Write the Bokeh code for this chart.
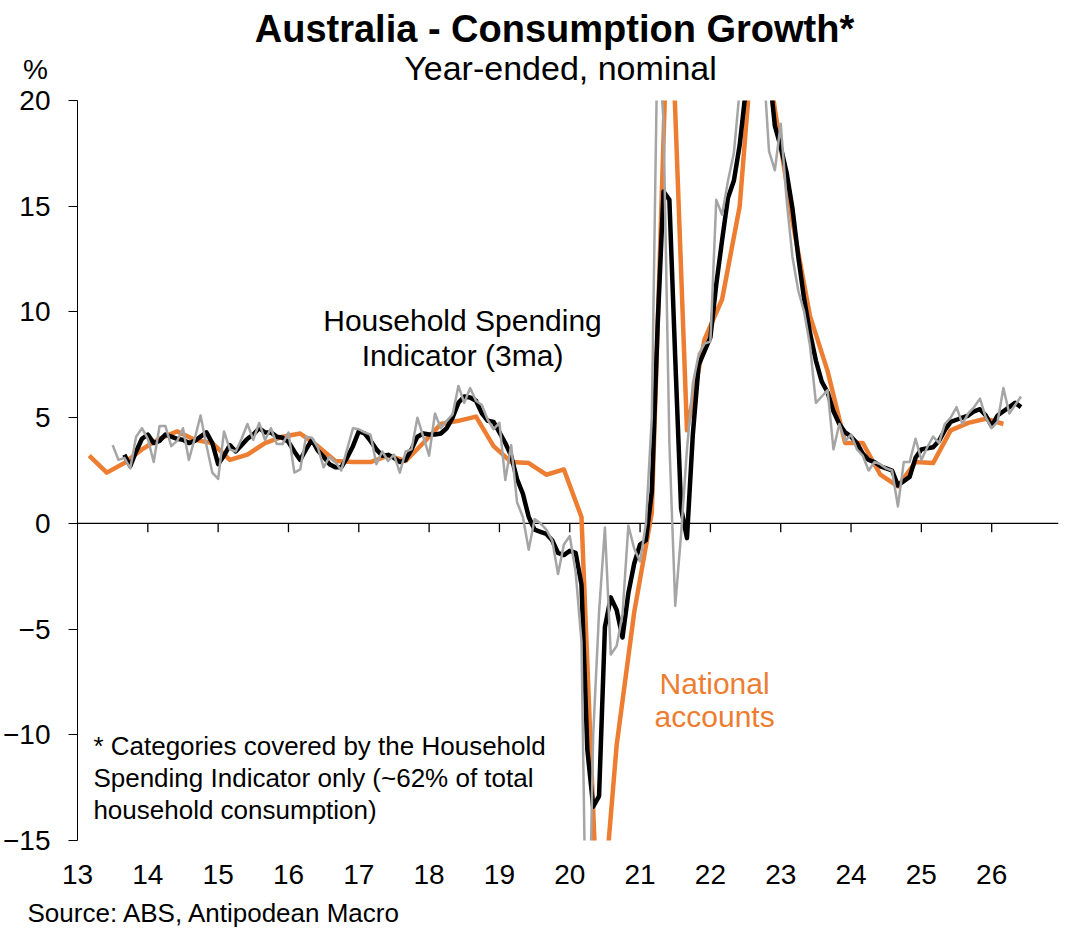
import pandas as pd
from bokeh.plotting import figure
from bokeh.layouts import column
from bokeh.models import Span, Label, FixedTicker
from bokeh.embed import file_html
from bokeh.resources import INLINE

FONT = "Liberation Sans"
ORANGE = "#ED7D31"
GREY = "#A5A5A5"
W = 1092
HEAD_H = 86
FOOT_H = 33
MAIN_H = 930 - HEAD_H - FOOT_H

# Household Spending Indicator, monthly, year-ended % (Jul 2013 - Jun 2026)
hsi_monthly = [
    3.7, 3.0, 3.1, 2.6, 4.1, 4.5,
    4.0, 2.9, 4.6, 4.6, 3.65, 3.9, 4.5, 3.0, 4.0, 5.1, 3.7, 2.4,
    2.1, 4.35, 3.5, 3.4, 4.0, 4.7, 3.95, 4.75, 3.95, 4.5, 3.75, 3.75,
    4.3, 2.4, 2.55, 4.1, 4.05, 3.6, 2.65, 3.15, 2.9, 2.5, 3.5, 4.5,
    4.45, 4.3, 4.2, 2.8, 3.4, 2.95, 3.25, 2.4, 3.4, 3.5, 5.0, 4.1,
    3.2, 5.2, 4.5, 4.85, 5.15, 6.5, 5.7, 6.4, 5.8, 5.6, 4.9, 4.45,
    4.75, 2.05, 3.7, 1.0, 0.3, -1.25, 0.2, 0.0, -0.3, -0.8, -2.4, -1.0,
    -0.6, -2.3, -5.6, -24.0, -10.0, -4.2, -0.2, -6.2, -5.8, -4.3, -0.1, -1.2,
    -1.8, 0.0, 5.0, 23.5, 19.0, 3.8, -3.9, -0.5, 3.5, 6.6, 8.0, 8.5,
    8.6, 15.3, 14.6, 16.2, 17.5, 20.5, 24.0, 26.0, 25.0, 22.0, 17.6, 16.7,
    18.9, 15.3, 12.6, 11.0, 10.0, 8.4, 5.7, 6.0, 6.3, 3.5, 4.7, 3.9,
    4.2, 3.5, 3.2, 2.5, 2.9, 2.8, 2.6, 2.5, 0.8, 2.9, 2.9, 4.0,
    3.0, 3.6, 4.1, 3.8, 4.7, 5.0, 5.5, 4.7, 5.2, 5.5, 5.9, 5.0,
    4.5, 4.8, 6.4, 5.2, 5.6, 6.0,
]

# Household Spending Indicator, 3-month average (Sep 2013 - Jun 2026)
hsi_3ma = [
    3.25, 2.7, 3.4, 4.0,
    4.2, 3.8, 3.9, 4.2, 4.1, 4.0, 3.95, 3.8, 3.9, 4.1, 4.3, 3.8,
    2.8, 3.2, 3.7, 3.4, 3.7, 4.0, 4.2, 4.5, 4.3, 4.3, 4.1, 4.05,
    3.85, 3.4, 3.0, 3.5, 3.95, 3.45, 3.15, 2.8, 2.65, 2.65, 3.1, 3.65,
    4.35, 4.25, 3.9, 3.5, 3.2, 3.24, 3.1, 2.9, 3.0, 3.5, 4.1, 4.25,
    4.2, 4.2, 4.25, 4.5, 5.0, 5.7, 6.0, 5.95, 5.8, 5.2, 4.85, 4.8,
    4.3, 3.8, 3.2, 2.1, 1.4, 0.3, -0.3, -0.4, -0.5, -0.8, -1.4, -1.5,
    -1.3, -1.4, -2.9, -10.7, -13.4, -12.9, -4.9, -3.5, -4.1, -5.4, -3.3, -1.9,
    -1.0, -0.8, 1.5, 9.4, 15.7, 15.3, 7.8, 0.7, -0.7, 4.2, 7.5, 8.15,
    8.8, 11.3, 13.4, 15.4, 16.2, 17.9, 20.4, 23.5, 25.0, 24.3, 21.5, 18.8,
    17.8, 16.6, 14.9, 12.6, 10.6, 9.0, 7.7, 6.7, 6.2, 5.3, 4.7, 4.3,
    4.1, 3.8, 3.3, 3.0, 2.9, 2.7, 2.6, 2.5, 1.8, 2.0, 2.2, 3.1,
    3.5, 3.55, 3.6, 3.9, 4.4, 4.8, 4.9, 5.0, 5.1, 5.3, 5.4, 5.1,
    4.6, 5.1, 5.3, 5.5, 5.7, 5.5,
]

# National accounts, quarterly (Mar 2013 - Mar 2026)
nat_accounts = [
    3.2, 2.4, 2.85, 3.5,
    4.0, 4.35, 3.95, 3.8,
    3.0, 3.25, 3.8, 4.1,
    4.25, 3.65, 2.95, 2.9,
    2.9, 3.2, 2.95, 3.8,
    4.7, 4.85, 5.05, 3.65,
    2.9, 2.85, 2.3, 2.55,
    0.3, -20.5, -10.5, -4.2,
    0.5, 27.0, 4.4, 8.7,
    10.6, 15.0, 25.5, 19.6,
    14.3, 9.8, 7.2, 3.8,
    3.8, 2.3, 1.75, 2.9,
    2.85, 4.4, 4.75, 4.95,
    4.7,
]

year_ticks = list(range(13, 27))
pct_ticks = [-15, -10, -5, 0, 5, 10, 15, 20]


def to_year(dates):
    # decimal two-digit year, January sits on the year tick
    return [d.year - 2000 + (d.month - 1) / 12 for d in dates]


x_monthly = to_year(pd.date_range("2013-07-01", "2026-06-01", freq="MS"))
x_3ma = to_year(pd.date_range("2013-09-01", "2026-06-01", freq="MS"))
x_quarterly = to_year(pd.date_range("2013-03-01", "2026-03-01", freq="3MS"))


def no_frame_align(fig):
    # keep each figure's own frame instead of lining them up in the column
    if "frame_align" in fig.properties():
        fig.frame_align = False


def text_strip(height):
    # plain strip in pixel units (y grows downwards) for the texts outside the plot
    f = figure(width=W, height=height, x_range=(0, W), y_range=(height, 0),
               output_backend="svg", toolbar_location=None, min_border=0,
               x_axis_location=None, y_axis_location=None)
    f.outline_line_color = None
    f.xgrid.visible = False
    f.ygrid.visible = False
    no_frame_align(f)
    return f


def add_text(fig, x, y, text, size, color="black", align="left", style="normal"):
    # y is the vertical middle of the text line
    fig.add_layout(Label(x=x, y=y, text=text, text_font=FONT, text_font_size=size,
                         text_color=color, text_align=align,
                         text_baseline="middle", text_font_style=style))


head = text_strip(HEAD_H)
add_text(head, 554, 28.5, "Australia - Consumption Growth*", "38px", align="center", style="bold")
add_text(head, 560, 67.0, "Year-ended, nominal", "34px", align="center")
add_text(head, 35, 68.5, "%", "28px", align="center")

foot = text_strip(FOOT_H)
add_text(foot, 27, 912 - (930 - FOOT_H), "Source: ABS, Antipodean Macro", "26px")

p = figure(width=W, height=MAIN_H, x_range=(13, 26.95), y_range=(-15, 20),
           output_backend="svg", toolbar_location=None,
           min_border_left=72, min_border_right=34,
           min_border_top=100 - HEAD_H, min_border_bottom=MAIN_H - 740 - (100 - HEAD_H))
p.outline_line_color = None
p.xgrid.visible = False
p.ygrid.visible = False
no_frame_align(p)

# x axis: labels only, the visible line sits at zero
p.xaxis.ticker = FixedTicker(ticks=year_ticks)
p.xaxis.axis_line_color = None
p.xaxis.major_tick_line_color = None
p.xaxis.minor_tick_line_color = None
p.xaxis.major_tick_out = 0
p.xaxis.major_tick_in = 0
p.xaxis.major_label_standoff = 24
p.xaxis.major_label_text_font = FONT
p.xaxis.major_label_text_font_size = "28px"
p.xaxis.major_label_text_color = "black"

p.yaxis.ticker = FixedTicker(ticks=pct_ticks)
p.yaxis.axis_line_color = "black"
p.yaxis.major_tick_line_color = "black"
p.yaxis.minor_tick_line_color = None
p.yaxis.major_tick_out = 9
p.yaxis.major_tick_in = 0
p.yaxis.major_label_standoff = 18
p.yaxis.major_label_text_font = FONT
p.yaxis.major_label_text_font_size = "28px"
p.yaxis.major_label_text_color = "black"

zero = Span(location=0, dimension="width", line_color="black", line_width=1.3)
zero.level = "underlay"
p.add_layout(zero)
p.segment(x0=year_ticks[1:], y0=0, x1=year_ticks[1:], y1=-0.42,
          line_color="black", line_width=1.3)

p.line(x_quarterly, nat_accounts, line_color=ORANGE, line_width=4.5, line_join="round")
p.line(x_3ma, hsi_3ma, line_color="black", line_width=4.5, line_join="round")
p.line(x_monthly, hsi_monthly, line_color=GREY, line_width=2.5, line_join="round")

add_text(p, 18.475, 9.61, "Household Spending", "30px", align="center")
add_text(p, 18.475, 7.96, "Indicator (3ma)", "30px", align="center")
add_text(p, 22.06, -7.57, "National", "30px", color=ORANGE, align="center")
add_text(p, 22.06, -9.15, "accounts", "30px", color=ORANGE, align="center")

add_text(p, 13.226, -10.55, "* Categories covered by the Household", "26px")
add_text(p, 13.226, -12.05, "Spending Indicator only (~62% of total", "26px")
add_text(p, 13.226, -13.55, "household consumption)", "26px")

page = column(head, p, foot, spacing=0)
open("out.html", "w").write(file_html(page, INLINE))
